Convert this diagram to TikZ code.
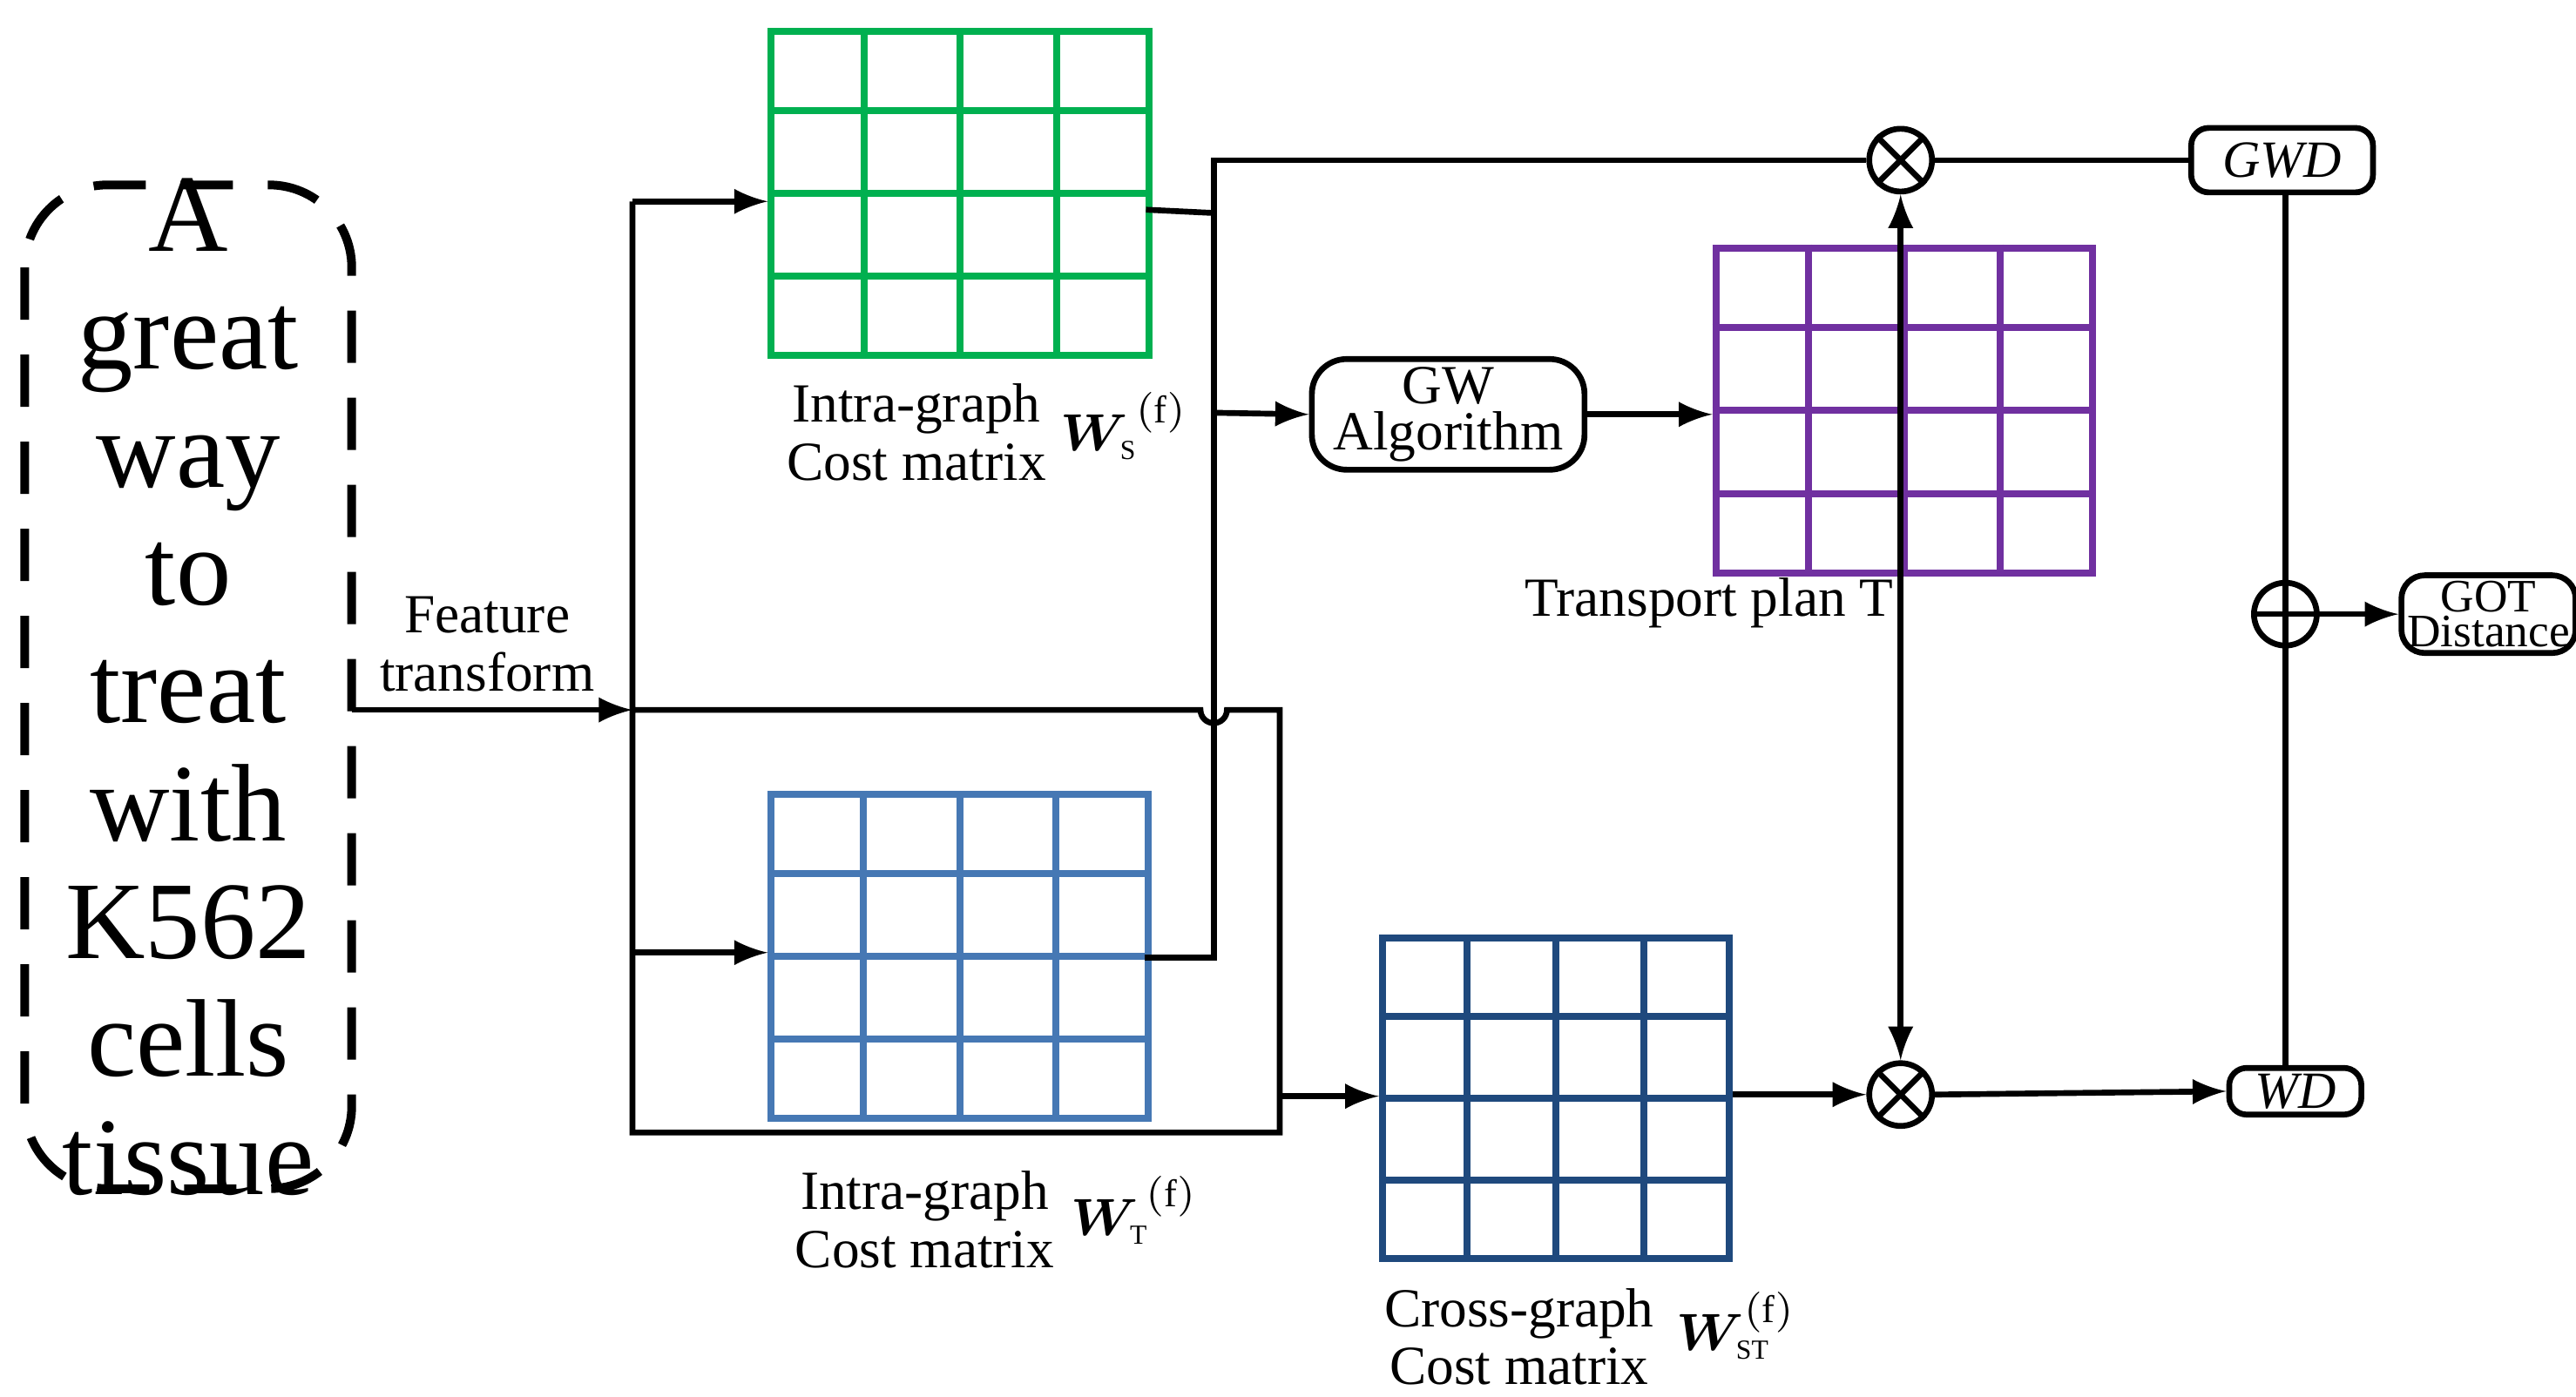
\documentclass[tikz,border=0pt]{standalone}
\usepackage{amsmath}
\usepackage{fontspec}
\setmainfont{Liberation Serif}
\usetikzlibrary{arrows,positioning,calc}
\tikzset{
  wire/.style={line width=1pt},
  arr/.style={wire,-latex},
  op/.style={draw,circle,line width=1pt,minimum size=0.38cm,inner sep=0pt},
  lbl/.style={font=\fontsize{9.5}{10}\selectfont,align=center},
  tag/.style={draw,rounded corners=3pt,line width=1pt,inner sep=1pt,font=\fontsize{9}{9}\selectfont\itshape}
}
\newcommand\costgrid[6]{% name, x0,y0,x1,y1,colour
  \node[draw=#6,line width=1.2pt,inner sep=0pt,minimum width={(#4-#2)*0.01cm},minimum height={(#5-#3)*0.01cm},anchor=north west] (#1) at (#2,#3) {};
  \foreach \i in {1,2,3}{
    \draw[#6,line width=1.2pt] ($(#1.north west)!\i/4!(#1.north east)$) -- ($(#1.south west)!\i/4!(#1.south east)$);
    \draw[#6,line width=1.2pt] ($(#1.north west)!\i/4!(#1.south west)$) -- ($(#1.north east)!\i/4!(#1.south east)$);
  }}
\definecolor{gcol}{RGB}{0,176,80}
\definecolor{bcol}{RGB}{70,120,180}
\definecolor{pcol}{RGB}{112,48,160}
\definecolor{dcol}{RGB}{31,73,125}
\begin{document}
\begin{tikzpicture}[x=0.01cm,y=-0.01cm]
\useasboundingbox (0,0) rectangle (1560,845.7);
% left text box
\draw[line width=1.5pt,dashed,dash pattern=on 9pt off 6pt,rounded corners=0.5cm] (15,112) rectangle (213,720);
\node (src) at (114,416) [align=center,font=\fontsize{19}{20.3}\selectfont] {A\\great\\way\\to\\treat\\with\\K562\\cells\\tissue};
\coordinate (srcE) at (213,430);
\coordinate (split) at (383,430);
\node[lbl] (ft) at (295,390) {Feature\\transform};
% matrices
\costgrid{Ws}{465}{17}{694}{213}{gcol}
\costgrid{Wt}{465}{479}{693}{675}{bcol}
\costgrid{T}{1037}{148}{1265}{345}{pcol}
\costgrid{Wst}{835}{566}{1045}{760}{dcol}
\node[lbl,anchor=north] (WsL) at (555,220) {Intra-graph\\Cost matrix};
\node[anchor=west,font=\fontsize{9.5}{10}\selectfont] at (630,258) {$\boldsymbol{W}_{\!\scriptscriptstyle\mathrm{S}}^{\,\mathrm{(f)}}$};
\node[lbl,anchor=north] (WtL) at (560,697) {Intra-graph\\Cost matrix};
\node[anchor=west,font=\fontsize{9.5}{10}\selectfont] at (636,733) {$\boldsymbol{W}_{\!\scriptscriptstyle\mathrm{T}}^{\,\mathrm{(f)}}$};
\node[lbl,anchor=north] (WstL) at (920,768) {Cross-graph\\Cost matrix};
\node[anchor=west,font=\fontsize{9.5}{10}\selectfont] at (1003,803) {$\boldsymbol{W}_{\!\scriptscriptstyle\mathrm{ST}}^{\mathrm{(f)}}$};
\node[lbl] (TL) at (1035,365) {Transport plan T};
% operators and tags
\node[draw,rounded corners=6pt,line width=1pt,lbl,minimum width=1.65cm,minimum height=0.67cm,inner sep=0pt,font=\fontsize{9.5}{8}\selectfont] (gw) at (877,251) {GW\\Algorithm};
\node[op] (mt) at (1151,97) {};
\node[op] (mb) at (1151,663) {};
\draw[wire] (mt.45) -- (mt.225) (mt.135) -- (mt.315);
\draw[wire] (mb.45) -- (mb.225) (mb.135) -- (mb.315);
\node[op] (pl) at (1384,372) {};
\draw[wire] (pl.north) -- (pl.south) (pl.west) -- (pl.east);
\node[tag,minimum width=1.1cm,minimum height=0.39cm] (gwd) at (1382,97) {GWD};
\node[tag,minimum width=0.8cm,minimum height=0.27cm] (wd) at (1390,661) {WD};
\node[draw,rounded corners=4pt,line width=1pt,align=center,inner sep=1pt,minimum width=1cm,minimum height=0.45cm,font=\fontsize{8}{6}\selectfont] (got) at (1507,372) {GOT\\Distance};
% connectors
\draw[arr] (srcE) -- (split);
\draw[wire] (383,122) -- (383,686) -- (775,686) -- (775,430) -- (743,430) arc (0:180:8) -- (split);
\draw[arr] (383,122) -- (Ws.west |- 0,122);
\draw[arr] (383,577) -- (Wt.west |- 0,577);
\draw[arr] (775,664) -- (Wst.west |- 0,664);
\draw[wire] (694,127) -- (735,129);
\draw[wire] (693,580) -- (735,580) -- (735,97) -- (mt.west);
\draw[arr] (735,250) -- (gw.west);
\draw[arr] (gw.east) -- (T.west |- gw.east);
\draw[latex-latex,wire] (mt.south) -- (mb.north);
\draw[arr] (Wst.east |- mb) -- (mb.west);
\draw[wire] (mt.east) -- (gwd.west);
\draw[arr] (mb.east) -- (wd.west);
\draw[wire] (gwd.south -| pl) -- (pl.north);
\draw[wire] (pl.south) -- (wd.north -| pl);
\draw[arr] (pl.east) -- (got.west);
\end{tikzpicture}
\end{document}
